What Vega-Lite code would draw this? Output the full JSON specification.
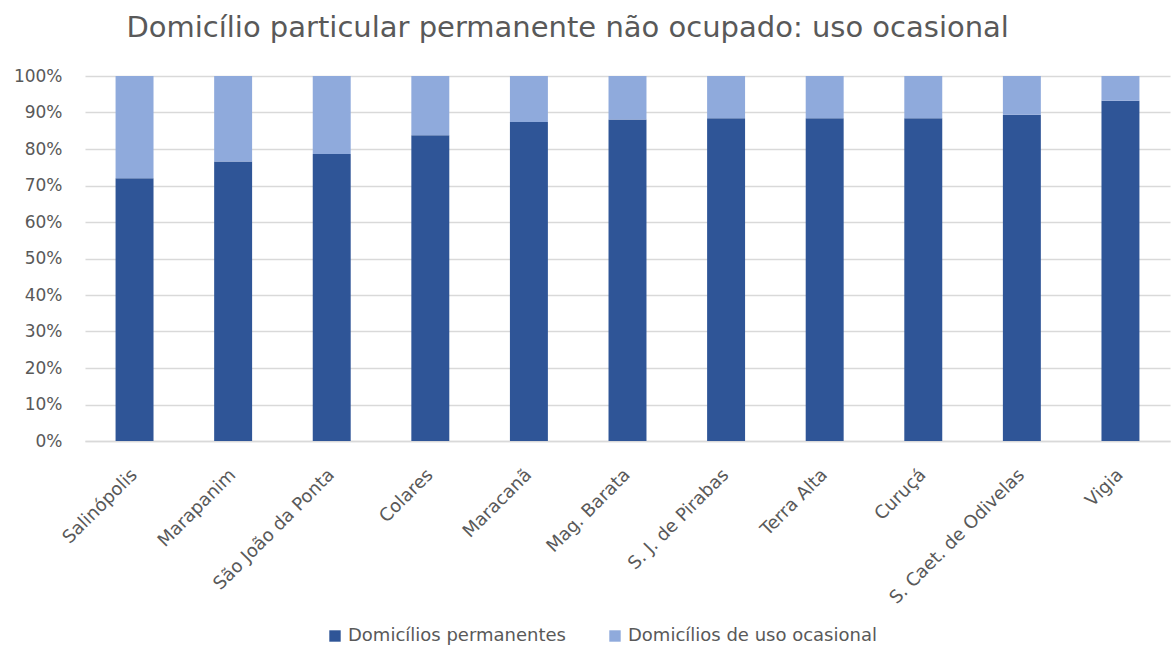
{
  "$schema": "https://vega.github.io/schema/vega-lite/v6.json",
  "autosize": {"type": "none"},
  "width": 1085,
  "height": 365,
  "padding": {"left": 85, "top": 76, "right": 1, "bottom": 206},
  "background": "white",
  "title": {
    "text": "Domicílio particular permanente não ocupado: uso ocasional",
    "anchor": "start",
    "dx": 113,
    "offset": 24,
    "font": "DejaVu Sans",
    "fontSize": 29,
    "fontWeight": "normal",
    "color": "#595959"
  },
  "data": {
    "values": [
      {"municipio": "Salinópolis", "serie": "Domicílios permanentes", "valor": 0.72, "ordem": 1},
      {"municipio": "Salinópolis", "serie": "Domicílios de uso ocasional", "valor": 0.28, "ordem": 2},
      {"municipio": "Marapanim", "serie": "Domicílios permanentes", "valor": 0.766, "ordem": 1},
      {"municipio": "Marapanim", "serie": "Domicílios de uso ocasional", "valor": 0.234, "ordem": 2},
      {"municipio": "São João da Ponta", "serie": "Domicílios permanentes", "valor": 0.786, "ordem": 1},
      {"municipio": "São João da Ponta", "serie": "Domicílios de uso ocasional", "valor": 0.214, "ordem": 2},
      {"municipio": "Colares", "serie": "Domicílios permanentes", "valor": 0.838, "ordem": 1},
      {"municipio": "Colares", "serie": "Domicílios de uso ocasional", "valor": 0.162, "ordem": 2},
      {"municipio": "Maracanã", "serie": "Domicílios permanentes", "valor": 0.874, "ordem": 1},
      {"municipio": "Maracanã", "serie": "Domicílios de uso ocasional", "valor": 0.126, "ordem": 2},
      {"municipio": "Mag. Barata", "serie": "Domicílios permanentes", "valor": 0.881, "ordem": 1},
      {"municipio": "Mag. Barata", "serie": "Domicílios de uso ocasional", "valor": 0.119, "ordem": 2},
      {"municipio": "S. J. de Pirabas", "serie": "Domicílios permanentes", "valor": 0.884, "ordem": 1},
      {"municipio": "S. J. de Pirabas", "serie": "Domicílios de uso ocasional", "valor": 0.116, "ordem": 2},
      {"municipio": "Terra Alta", "serie": "Domicílios permanentes", "valor": 0.884, "ordem": 1},
      {"municipio": "Terra Alta", "serie": "Domicílios de uso ocasional", "valor": 0.116, "ordem": 2},
      {"municipio": "Curuçá", "serie": "Domicílios permanentes", "valor": 0.884, "ordem": 1},
      {"municipio": "Curuçá", "serie": "Domicílios de uso ocasional", "valor": 0.116, "ordem": 2},
      {"municipio": "S. Caet. de Odivelas", "serie": "Domicílios permanentes", "valor": 0.894, "ordem": 1},
      {"municipio": "S. Caet. de Odivelas", "serie": "Domicílios de uso ocasional", "valor": 0.106, "ordem": 2},
      {"municipio": "Vigia", "serie": "Domicílios permanentes", "valor": 0.932, "ordem": 1},
      {"municipio": "Vigia", "serie": "Domicílios de uso ocasional", "valor": 0.068, "ordem": 2}
    ]
  },
  "mark": {"type": "bar"},
  "encoding": {
    "x": {
      "field": "municipio",
      "type": "nominal",
      "sort": null,
      "title": null,
      "scale": {"paddingInner": 0.615, "paddingOuter": 0.31},
      "axis": {
        "labelAngle": -45,
        "labelAlign": "right",
        "labelBaseline": "middle",
        "labelFont": "DejaVu Sans",
        "labelFontSize": 18,
        "labelColor": "#595959",
        "labelPadding": 31,
        "labelOffset": 0,
        "labelLimit": 400,
        "ticks": false,
        "domainColor": "#d9d9d9",
        "domainWidth": 1.5,
        "grid": false
      }
    },
    "y": {
      "field": "valor",
      "type": "quantitative",
      "stack": "zero",
      "title": null,
      "scale": {"domain": [0, 1], "nice": false},
      "axis": {
        "format": ".0%",
        "values": [0, 0.1, 0.2, 0.3, 0.4, 0.5, 0.6, 0.7, 0.8, 0.9, 1],
        "labelFont": "DejaVu Sans",
        "labelFontSize": 17,
        "labelColor": "#595959",
        "labelPadding": 23,
        "ticks": false,
        "domain": false,
        "gridColor": "#d9d9d9",
        "gridWidth": 1.5
      }
    },
    "color": {
      "field": "serie",
      "type": "nominal",
      "scale": {
        "domain": ["Domicílios permanentes", "Domicílios de uso ocasional"],
        "range": ["#2F5597", "#8FAADC"]
      },
      "legend": {
        "title": null,
        "orient": "none",
        "direction": "horizontal",
        "legendX": 241,
        "legendY": 551,
        "symbolType": "square",
        "symbolSize": 130,
        "symbolOpacity": 1,
        "labelFont": "DejaVu Sans",
        "labelFontSize": 18,
        "labelColor": "#595959",
        "labelLimit": 400,
        "columnPadding": 40,
        "labelOffset": 4
      }
    },
    "order": {"field": "ordem", "type": "quantitative"}
  },
  "config": {"view": {"stroke": null}}
}
